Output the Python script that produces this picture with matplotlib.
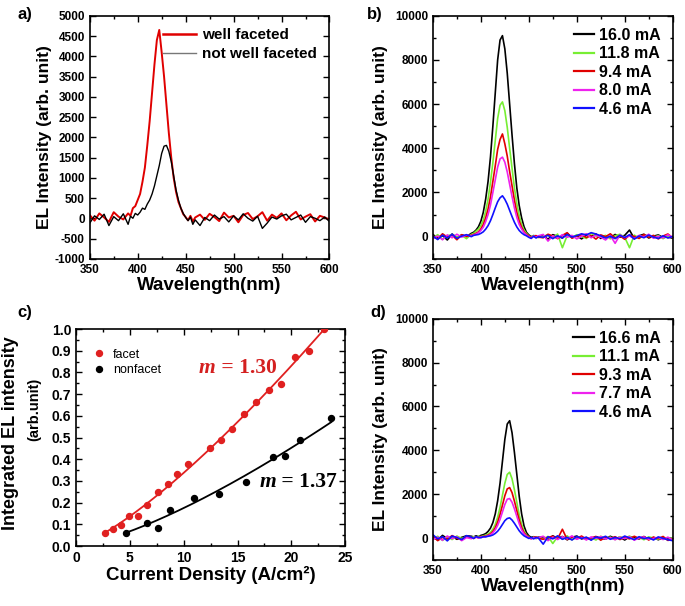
import numpy as np
import matplotlib
matplotlib.use("Agg")
import matplotlib.pyplot as plt
from matplotlib.ticker import MultipleLocator

plt.rcParams['font.family'] = ['Liberation Sans', 'DejaVu Sans']
plt.rcParams['font.weight'] = 'bold'
plt.rcParams['axes.labelweight'] = 'bold'
plt.rcParams['axes.unicode_minus'] = False

# sampling grid of the spectra (nm): coarse baseline, finer around the peak
wl_left = np.arange(350, 386, 5)
wl_peak = np.arange(390, 460.1, 2.5)
wl_right = np.arange(465, 600.1, 5)
wavelength = np.concatenate([wl_left, wl_peak, wl_right])

# ---- panel a: EL spectra, faceted vs not faceted
a_well = [80, -60, 120, 20, -90, 150, 40, -30,
          120, 60, 250, 300, 450, 600, 900, 1250, 1800, 2400, 3100, 3800, 4400, 4650,
          4100, 3500, 2800, 2100, 1500, 1000, 650, 400, 250, 100, 30, -50, 60, -80, 20,
          90, -40, 110, 30, -70, 140, 20, 60, -100, 80, 130, -20, 50, 150,
          -60, 90, 10, 120, -50, 70, 160, -30, 40, 100, -80, 60, 20, -40]
a_notwell = [-120, 60, -30, 100, -180, 40, -60, 110,
             -150, 50, 0, 120, 80, 150, 250, 220, 350, 450, 600, 800, 1050, 1300,
             1600, 1780, 1800, 1650, 1400, 1050, 700, 450, 250, 120, 20, -60, 30, -150, -40,
             -180, 20, -60, 80, -20, 40, -90, 60, -40, 110, 0, -70, 50, -250,
             -120, 30, -20, 60, 100, -40, 20, 80, -100, 40, 0, -60, 30, -80]
a_labels = ["well faceted", "not well faceted"]

# ---- panel b: faceted LED at several currents
b_labels = ["16.0 mA", "11.8 mA", "9.4 mA", "8.0 mA", "4.6 mA"]
b_160 = [100, -80, 50, -150, 120, -40, 80, 0,
         150, 200, 300, 450, 700, 1100, 1700, 2500, 3600, 5000, 6500, 8000, 8900, 9100,
         8500, 7400, 6000, 4600, 3300, 2200, 1400, 850, 450, 200, 80, 0, 40, -30, 10,
         60, -120, 90, 20, -60, 150, -30, 40, -100, 70, 10, 120, -80, 30,
         -50, 100, -20, 60, 300, -90, 40, 110, -60, 20, 80, -40, 0, -70]
b_118 = [-60, 90, -120, 40, 100, -30, 60, -90,
         100, 150, 250, 350, 500, 750, 1150, 1700, 2450, 3350, 4350, 5350, 5950, 6100,
         5700, 4950, 4000, 3100, 2200, 1500, 950, 550, 300, 150, 40, -20, 60, 0, -40,
         20, 80, -60, 120, -500, 50, -40, 90, 10, -80, 150, 30, -20, 60,
         -100, 40, 110, -30, -500, 70, -60, 20, 90, -40, 50, -90, 30, -20]
b_94 = [40, -100, 130, -20, 70, -140, 90, 10,
        60, 100, 150, 220, 350, 550, 850, 1250, 1800, 2500, 3200, 3950, 4400, 4650,
        4200, 3650, 2950, 2300, 1650, 1100, 700, 420, 220, 100, 30, -40, 20, 50, -20,
        -50, 110, 30, -90, 60, 180, -70, 20, 90, -40, 50, -110, 80, 0,
        130, -60, 40, -120, 70, 10, -80, 100, -30, 60, -100, 30, 120, -50]
b_80 = [-90, 30, -140, 80, -50, 110, -20, 70,
        40, 80, 120, 180, 280, 430, 680, 1000, 1430, 2000, 2570, 3150, 3520, 3600,
        3370, 2930, 2370, 1820, 1300, 870, 550, 340, 180, 80, 0, -60, 30, -20, 40,
        100, -200, 40, -70, 90, -30, 60, -100, 20, 130, -50, 70, -20, -150,
        50, -300, 80, -40, 30, -90, 60, -20, 110, -70, 20, -60, 90, -30]
b_46 = [20, -130, 70, -60, 110, -80, 30, 90,
        0, 60, 80, 100, 150, 220, 340, 500, 720, 1000, 1300, 1580, 1760, 1850,
        1690, 1470, 1190, 910, 650, 440, 280, 170, 90, 40, -30, -80, 20, -60, 0,
        -30, 60, -90, 40, -60, 100, -20, 50, 130, 80, 180, 120, 40, -60,
        20, -90, 60, -40, 90, -110, 30, -50, 70, -20, -80, 40, -60, 10]

# ---- panel c: integrated EL intensity vs current density
facet_j = [2.7, 3.4, 4.2, 4.9, 5.8, 6.6, 7.6, 8.5, 9.4, 10.4, 12.4, 13.5, 14.5,
           15.6, 16.7, 17.9, 19.0, 20.3, 21.6, 23.0]
facet_int = [0.06, 0.08, 0.095, 0.14, 0.14, 0.19, 0.25, 0.285, 0.33, 0.38, 0.45,
             0.49, 0.54, 0.61, 0.665, 0.72, 0.745, 0.87, 0.90, 1.0]
nonfacet_j = [4.6, 6.6, 7.6, 8.7, 11.0, 13.3, 15.8, 18.3, 19.4, 20.8, 23.7]
nonfacet_int = [0.06, 0.105, 0.085, 0.165, 0.22, 0.24, 0.295, 0.41, 0.415, 0.49, 0.59]
m_facet = 1.30
m_nonfacet = 1.37

# ---- panel d: non-faceted LED at several currents
d_labels = ["16.6 mA", "11.1 mA", "9.3 mA", "7.7 mA", "4.6 mA"]
d_166 = [60, -90, 120, -30, 80, -60, 30, 100,
         80, 50, 100, 60, 120, 150, 200, 300, 450, 700, 1100, 1700, 2500, 3500,
         4500, 5200, 5350, 4800, 3900, 2900, 1900, 1100, 550, 250, 100, 30, 60, 0, 40,
         40, -60, 100, -20, 70, -80, 30, 90, -40, 20, -70, 60, 0, -50,
         80, -30, 40, -90, 60, 10, -40, 70, -60, 30, -80, 20, -50, 10]
d_111 = [-40, 80, -110, 50, -70, 90, -20, 60,
         20, 60, 40, 80, 60, 100, 130, 180, 260, 400, 620, 950, 1400, 1950,
         2500, 2900, 3000, 2700, 2200, 1620, 1060, 620, 310, 140, 50, -20, 40, -30, 10,
         -30, 70, -250, 60, -40, 100, -80, 30, 50, -60, 20, -90, 80, -20,
         40, -70, 60, -10, 90, -50, 30, -80, 50, 0, -60, 40, -90, 20]
d_93 = [90, -120, 30, -50, 110, -10, -80, 50,
        30, -20, 50, 20, 60, 70, 90, 130, 190, 300, 470, 730, 1080, 1500,
        1930, 2240, 2300, 2070, 1680, 1250, 820, 470, 240, 110, 40, -30, 20, 50, -10,
        -60, 30, 80, -40, 400, -70, 50, -30, 90, -60, 10, 70, -100, 40,
        -20, 60, -70, 30, -40, 80, -20, 50, -90, 40, -30, 70, -110, -40]
d_77 = [-70, 40, -100, 90, -30, 60, -120, 20,
        -30, 20, 40, -10, 50, 40, 70, 100, 150, 240, 370, 580, 850, 1190,
        1530, 1770, 1800, 1630, 1330, 990, 650, 370, 190, 80, 20, -40, 30, -20, 20,
        80, -120, 40, -70, 60, -40, 100, -60, 30, -90, 50, -20, 70, -50,
        20, -80, 40, -30, 60, -100, 10, 50, -60, -20, 30, -70, 40, -100]
d_46 = [150, -40, 60, -130, 90, 20, -70, 110,
        40, -20, 60, 30, 10, 60, 50, 80, 100, 140, 210, 310, 450, 620,
        790, 890, 920, 820, 670, 500, 330, 200, 100, 40, -20, 30, -40, 20, 0,
        -280, 60, -40, 100, -60, 30, -90, 70, -20, 40, -100, 50, -10, 80,
        -60, 30, -40, 90, 0, -70, 60, -30, 20, -90, 50, -10, -80, -120]

current_colors = ["black", "#77ee33", "#e00000", "#ee22ee", "#1010ff"]


def style_axes(ax, size=8.5):
    ax.tick_params(which='both', direction='in', top=True, right=True,
                   labelsize=size, width=1)
    ax.tick_params(which='major', length=4)
    ax.tick_params(which='minor', length=2)
    for s in ax.spines.values():
        s.set_linewidth(1.2)
    for lab in ax.get_xticklabels() + ax.get_yticklabels():
        lab.set_fontweight('bold')


def bold_legend(leg):
    for t in leg.get_texts():
        t.set_fontweight('bold')


def spectra_panel(ax, series, labels):
    for ys, lab, col in zip(series, labels, current_colors):
        ax.plot(wavelength, ys, color=col, lw=1.2, label=lab)
    ax.set_xlim(350, 600)
    ax.set_ylim(-1000, 10000)
    ax.xaxis.set_major_locator(MultipleLocator(50))
    ax.xaxis.set_minor_locator(MultipleLocator(25))
    ax.yaxis.set_major_locator(MultipleLocator(2000))
    ax.yaxis.set_minor_locator(MultipleLocator(1000))
    ax.set_yticks([0, 2000, 4000, 6000, 8000, 10000])
    ax.set_xlabel("Wavelength(nm)", fontsize=13.5, labelpad=1)
    ax.set_ylabel("EL Intensity (arb. unit)", fontsize=12.5, labelpad=5)
    leg = ax.legend(loc='upper right', frameon=False, fontsize=11.5,
                    handlelength=1.3, handletextpad=0.3, labelspacing=0.22,
                    borderaxespad=0.35)
    bold_legend(leg)
    for h in leg.get_lines():
        h.set_linewidth(1.6)
    style_axes(ax)


fig = plt.figure(figsize=(6.85, 6.06), dpi=100)
ax_a = fig.add_axes([0.131, 0.573, 0.350, 0.401])
ax_b = fig.add_axes([0.632, 0.573, 0.350, 0.401])
ax_c = fig.add_axes([0.111, 0.099, 0.393, 0.358])
ax_d = fig.add_axes([0.632, 0.076, 0.350, 0.398])

# a)
ax_a.plot(wavelength, a_well, color="#e00000", lw=1.4, label=a_labels[0])
ax_a.plot(wavelength, a_notwell, color="black", lw=1.0, label=a_labels[1])
ax_a.set_xlim(350, 600)
ax_a.set_ylim(-1000, 5000)
ax_a.xaxis.set_major_locator(MultipleLocator(50))
ax_a.xaxis.set_minor_locator(MultipleLocator(25))
ax_a.yaxis.set_major_locator(MultipleLocator(500))
ax_a.set_xlabel("Wavelength(nm)", fontsize=13.5, labelpad=1)
ax_a.set_ylabel("EL Intensity (arb. unit)", fontsize=12.5, labelpad=2)
leg = ax_a.legend(loc='upper right', frameon=False, fontsize=11, handlelength=2.2,
                  handletextpad=0.4, labelspacing=0.35, borderaxespad=0.4)
bold_legend(leg)
leg.get_lines()[0].set_linewidth(1.8)
leg.get_lines()[1].set_color("#777777")
style_axes(ax_a)

# b) and d)
spectra_panel(ax_b, [b_160, b_118, b_94, b_80, b_46], b_labels)
spectra_panel(ax_d, [d_166, d_111, d_93, d_77, d_46], d_labels)

# c) power law fits with the exponents quoted on the plot
for xs, ys, m, col, lab in [(facet_j, facet_int, m_facet, "#e02020", "facet"),
                            (nonfacet_j, nonfacet_int, m_nonfacet, "black", "nonfacet")]:
    xs = np.array(xs)
    ys = np.array(ys)
    amp = np.sum(ys * xs**m) / np.sum(xs**(2 * m))
    xf = np.linspace(xs.min(), xs.max(), 200)
    ax_c.plot(xf, amp * xf**m, color=col, lw=1.3)
    ax_c.plot(xs, ys, 'o', color=col, mec=col, ms=4.3, label=lab, zorder=3)
ax_c.set_xlim(0, 25)
ax_c.set_ylim(0, 1.0)
ax_c.xaxis.set_major_locator(MultipleLocator(5))
ax_c.xaxis.set_minor_locator(MultipleLocator(2.5))
ax_c.yaxis.set_major_locator(MultipleLocator(0.1))
ax_c.yaxis.set_minor_locator(MultipleLocator(0.05))
ax_c.set_xlabel("Current Density (A/cm²)", fontsize=13.5, labelpad=1)
ax_c.set_ylabel("Integrated EL intensity", fontsize=13)
ax_c.yaxis.set_label_coords(-0.212, 0.52)
ax_c.text(-0.155, 0.63, "(arb.unit)", transform=ax_c.transAxes, rotation=90,
          ha='center', va='center', fontsize=10.5, fontweight='bold')
leg = ax_c.legend(loc='upper left', bbox_to_anchor=(0.03, 0.95), frameon=False,
                  fontsize=9, handlelength=1.0, handletextpad=0.6, labelspacing=0.3,
                  borderaxespad=0.3)
for t in leg.get_texts():
    t.set_fontweight('normal')
for (x, y, m, col) in [(11.4, 0.82, m_facet, "#d42020"), (17.0, 0.295, m_nonfacet, "black")]:
    t1 = ax_c.text(x, y, "m", color=col, fontsize=15.5, fontweight='bold',
                   fontstyle='italic', family='Liberation Serif', va='center')
    ax_c.annotate(" = %.2f" % m, xy=(1, 0), xycoords=t1, va='bottom', color=col,
                  fontsize=15.5, fontweight='bold', family='Liberation Serif')
style_axes(ax_c, size=10)

# panel letters
for x, y, s in [(0.025, 0.988, "a)"), (0.536, 0.988, "b)"),
                (0.025, 0.497, "c)"), (0.540, 0.497, "d)")]:
    fig.text(x, y, s, fontsize=12, fontweight='bold', va='top')

fig.savefig("out.png", dpi=100)
